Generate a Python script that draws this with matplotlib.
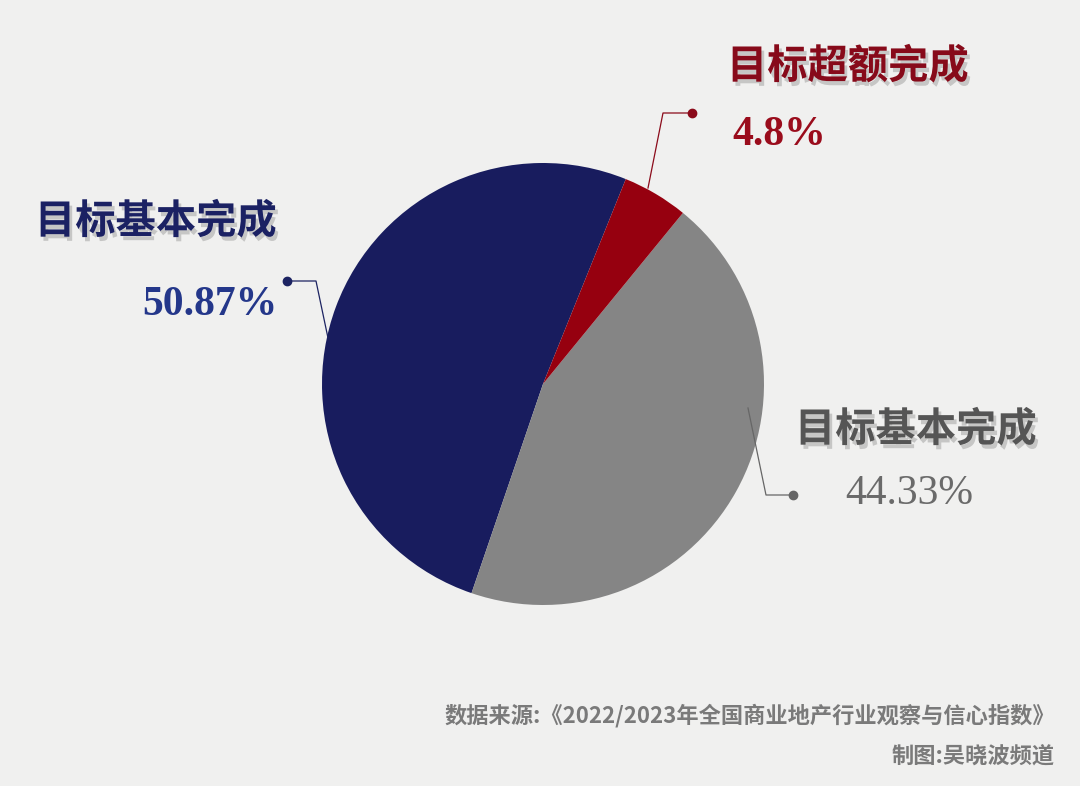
import numpy as np
import matplotlib.pyplot as plt
from matplotlib import patheffects as pe

plt.rcParams['font.family'] = ['Noto Sans CJK SC', 'DejaVu Sans']

# data
categories = ['目标基本完成', '目标基本完成', '目标超额完成']
values = [50.87, 44.33, 4.8]
value_labels = ['50.87%', '44.33%', '4.8%']
colors = ['#181c5e', '#858585', '#96000f']
source = '数据来源:《2022/2023年全国商业地产行业观察与信心指数》'
credit = '制图:吴晓波频道'

W, H = 1080, 786
bg = '#f0f0ef'
fig = plt.figure(figsize=(W / 100, H / 100), dpi=100)
fig.patch.set_facecolor(bg)
ax = fig.add_axes([0, 0, 1, 1])
ax.set_facecolor(bg)

def Y(y):
    # pixel row (from top) -> data y
    return H - y

ax.pie(values, colors=colors, startangle=68, counterclock=True,
       center=(543, Y(384)), radius=221, frame=True,
       wedgeprops=dict(linewidth=0))

ax.set_xlim(0, W)
ax.set_ylim(0, H)
ax.set_aspect('equal')
ax.axis('off')

shadow = [pe.withSimplePatchShadow(offset=(2, -3), shadow_rgbFace='#666666', alpha=0.3)]
num_font = ['Liberation Serif', 'Noto Sans CJK SC']

# label layout: title pos, value pos, leader line points, text colours
layout = [
    dict(title=(35, 222), ha='left', value=(277, 305), vha='right', vw='bold',
         line=[(287, 281), (316, 281), (328, 338)],
         tc='#1b2163', vc='#24378a', lc='#1c2362'),
    dict(title=(795, 430), ha='left', value=(845, 494), vha='left', vw='normal',
         line=[(793, 495), (766, 495), (748, 408)],
         tc='#555555', vc='#6a6a6a', lc='#666666'),
    dict(title=(727, 67), ha='left', value=(732, 135), vha='left', vw='bold',
         line=[(692, 113), (663, 113), (648, 188)],
         tc='#870a1a', vc='#9a0c1c', lc='#8b0a1a'),
]

for cat, lab, lay in zip(categories, value_labels, layout):
    tx, ty = lay['title']
    ax.text(tx, Y(ty), cat, ha=lay['ha'], va='center', fontsize=29,
            fontweight='bold', color=lay['tc'], path_effects=shadow)
    vx, vy = lay['value']
    ax.text(vx, Y(vy), lab, ha=lay['vha'], va='center', fontsize=30,
            family=num_font, fontweight=lay['vw'], color=lay['vc'])
    pts = np.array(lay['line'], dtype=float)
    ax.plot(pts[:, 0], H - pts[:, 1], color=lay['lc'], lw=0.9)
    ax.plot(pts[0, 0], H - pts[0, 1], 'o', ms=6, color=lay['lc'])

ax.text(1055, Y(716), source, ha='right', va='center', fontsize=16,
        fontweight='bold', color='#7a7a7a')
ax.text(1055, Y(756), credit, ha='right', va='center', fontsize=16,
        fontweight='bold', color='#7a7a7a')

fig.savefig('out.png', dpi=100, facecolor=fig.get_facecolor())
